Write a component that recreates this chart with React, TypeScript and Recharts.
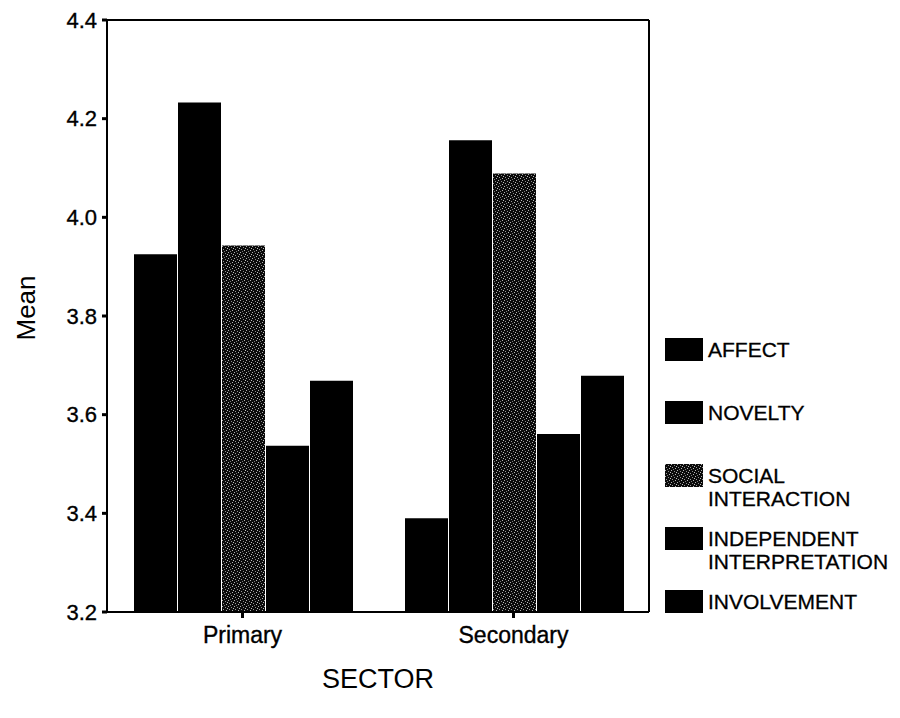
import React from 'react';
import { BarChart, Bar, XAxis, YAxis } from 'recharts';

const categories = ['Primary', 'Secondary'];
const seriesNames = ['AFFECT', 'NOVELTY', 'SOCIAL INTERACTION', 'INDEPENDENT INTERPRETATION', 'INVOLVEMENT'];
const affect = [3.925, 3.39];
const novelty = [4.233, 4.156];
const social = [3.943, 4.089];
const independent = [3.537, 3.561];
const involvement = [3.669, 3.679];
const yTicks = [3.2, 3.4, 3.6, 3.8, 4.0, 4.2, 4.4];

const seriesKeys = ['affect', 'novelty', 'social', 'independent', 'involvement'];
const seriesValues = [affect, novelty, social, independent, involvement];
const seriesFills = ['#000', '#000', 'url(#speckle)', '#000', '#000'];

const data = categories.map((sector, i) => {
  const row: Record<string, string | number> = { sector };
  seriesKeys.forEach((k, s) => { row[k] = seriesValues[s][i]; });
  return row;
});

const FONT = '"Liberation Sans", Arial, sans-serif';
// scanned text looks heavier than plain Arial
const ink = { fill: '#000', stroke: '#000', strokeWidth: 0.35 };

const SpeckleDefs = ({ id }: { id: string }) => (
  <defs>
    <pattern id={id} width="6" height="6" patternUnits="userSpaceOnUse">
      <rect width="6" height="6" fill="#0a0a0a" />
      <rect x="0" y="0" width="1" height="1" fill="#b0b0b0" />
      <rect x="3" y="1" width="1" height="1" fill="#8a8a8a" />
      <rect x="5" y="2" width="1" height="1" fill="#c0c0c0" />
      <rect x="1" y="3" width="1" height="1" fill="#9a9a9a" />
      <rect x="4" y="4" width="1" height="1" fill="#b5b5b5" />
      <rect x="2" y="5" width="1" height="1" fill="#7a7a7a" />
    </pattern>
  </defs>
);

const LegendBlock = () => (
  <div style={{ position: 'absolute', left: 665, top: 338, fontFamily: FONT, fontSize: 21, color: '#000', WebkitTextStroke: '0.3px #000' }}>
    {seriesNames.map((name, i) => (
      <div key={name} style={{ display: 'flex', alignItems: 'flex-start', height: 63 }}>
        <svg width={38} height={23} style={{ display: 'block', flex: 'none' }}>
          <SpeckleDefs id="speckleLegend" />
          <rect width={38} height={23} fill={seriesFills[i] === '#000' ? '#000' : 'url(#speckleLegend)'} />
        </svg>
        <div style={{ marginLeft: 5, lineHeight: '23px' }}>
          {name.split(' ').map((w) => (
            <div key={w}>{w}</div>
          ))}
        </div>
      </div>
    ))}
  </div>
);

export default function App() {
  return (
    <div style={{ position: 'absolute', left: 0, top: 0, width: 900, height: 718, background: '#fff', fontFamily: FONT }}>
      <BarChart
        width={900}
        height={718}
        data={data}
        margin={{ top: 19, right: 250, left: 17, bottom: 6 }}
        barCategoryGap={27}
        barGap={1}
      >
        <SpeckleDefs id="speckle" />
        <XAxis
          dataKey="sector"
          height={100}
          axisLine={{ stroke: '#000', strokeWidth: 2 }}
          tickLine={{ stroke: '#000', strokeWidth: 3 }}
          tickSize={6}
          tickMargin={9}
          tick={{ ...ink, fontSize: 23, fontFamily: FONT }}
          label={{ value: 'SECTOR', position: 'insideTop', offset: 57, fill: '#000', fontSize: 27, fontFamily: FONT }}
        />
        <XAxis xAxisId="top" dataKey="sector" orientation="top" height={1} tick={false} tickLine={false} axisLine={{ stroke: '#000', strokeWidth: 2 }} />
        <YAxis
          domain={[3.2, 4.4]}
          ticks={yTicks}
          allowDataOverflow
          width={90}
          axisLine={{ stroke: '#000', strokeWidth: 2 }}
          tickLine={{ stroke: '#000', strokeWidth: 3 }}
          tickSize={5}
          tickMargin={5}
          tickFormatter={(v: number) => v.toFixed(1)}
          tick={{ ...ink, fontSize: 22, fontFamily: FONT }}
          label={{ value: 'Mean', angle: -90, position: 'insideLeft', offset: 9, dy: -8, fill: '#000', fontSize: 26, fontFamily: FONT, style: { textAnchor: 'middle' } }}
        />
        <YAxis yAxisId="right" orientation="right" domain={[3.2, 4.4]} width={1} tick={false} tickLine={false} axisLine={{ stroke: '#000', strokeWidth: 2 }} />
        {seriesKeys.map((k, i) => (
          <Bar key={k} dataKey={k} name={seriesNames[i]} fill={seriesFills[i]} isAnimationActive={false} />
        ))}
      </BarChart>
      <LegendBlock />
    </div>
  );
}
